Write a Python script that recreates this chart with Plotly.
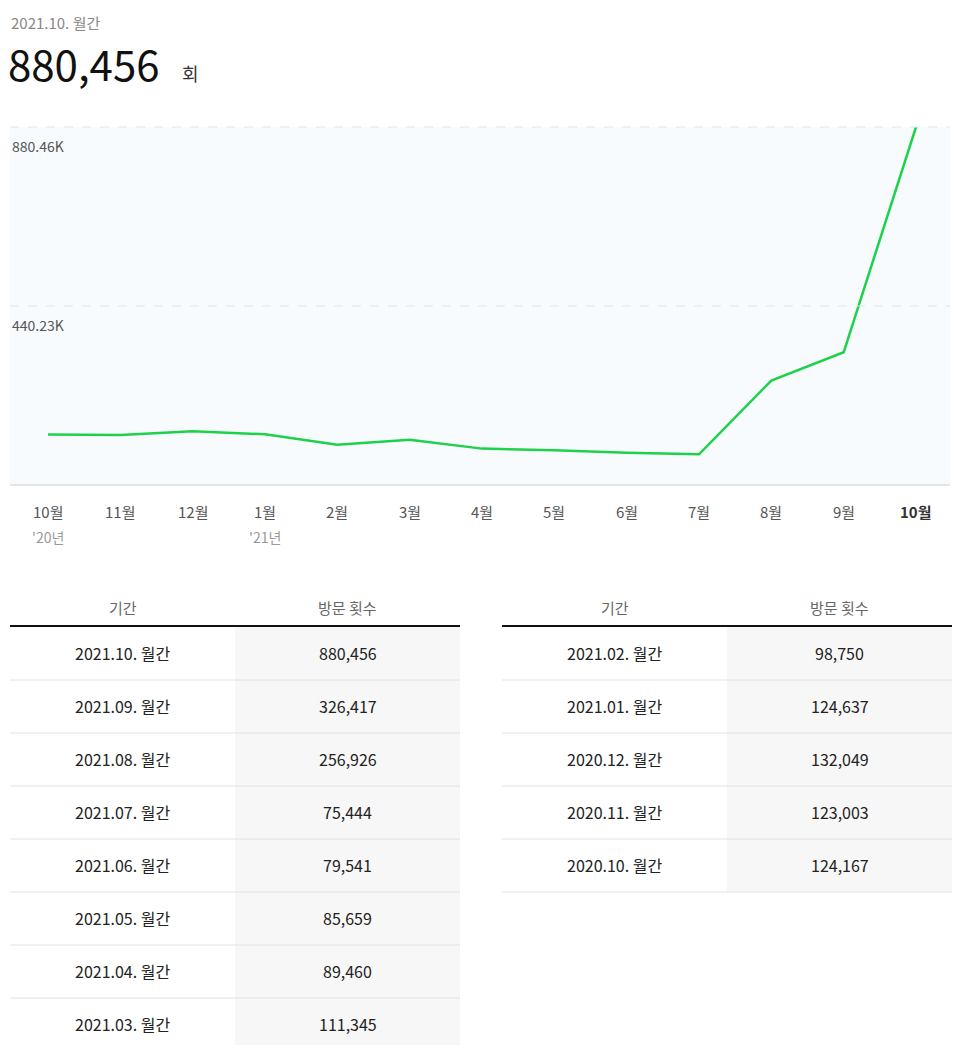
import plotly.graph_objects as go

months = ["10월","11월","12월","1월","2월","3월","4월","5월","6월","7월","8월","9월","10월"]
years = ["'20년","","","'21년","","","","","","","","",""]
visits = [124167,123003,132049,124637,98750,111345,89460,85659,79541,75444,256926,326417,880456]
tick_vals = [440230, 880460]
tick_text = ["440.23K", "880.46K"]

left_periods = ["2021.10. 월간","2021.09. 월간","2021.08. 월간","2021.07. 월간","2021.06. 월간","2021.05. 월간","2021.04. 월간","2021.03. 월간"]
left_values = ["880,456","326,417","256,926","75,444","79,541","85,659","89,460","111,345"]
right_periods = ["2021.02. 월간","2021.01. 월간","2020.12. 월간","2020.11. 월간","2020.10. 월간"]
right_values = ["98,750","124,637","132,049","123,003","124,167"]
headers = ["기간", "방문 횟수"]

OFF = 8
W, H = 966 - 2 * OFF, 1053 - 2 * OFF
FONT = "Noto Sans CJK KR"
def px(x): return (x - OFF) / W
def py(y): return 1 - (y - OFF) / H

fig = go.Figure()
xs = list(range(len(visits)))
fig.add_trace(go.Scatter(x=xs, y=visits, mode="lines", line=dict(color="#1ed14b", width=2.5),
                         cliponaxis=False, hoverinfo="skip"))

u = (916 - 48) / 12
x0 = -(48 - 10) / u
x1 = 12 + (950 - 916) / u
fig.update_layout(
    width=W, height=H, margin=dict(l=0, r=0, t=0, b=0),
    paper_bgcolor="white", plot_bgcolor="#f7fbfd", showlegend=False,
    font=dict(family=FONT),
    xaxis=dict(domain=[px(10), px(950)], range=[x0, x1], showgrid=False, zeroline=False,
               showticklabels=False, fixedrange=True),
    yaxis=dict(domain=[py(485), py(127)], range=[0, 880456], showgrid=False, zeroline=False,
               showticklabels=False, fixedrange=True),
)
shapes = []
ann = []
def A(**k):
    k.setdefault("showarrow", False)
    k.setdefault("xanchor", "center")
    k.setdefault("yanchor", "middle")
    ann.append(k)

for v, t, ypix in zip(tick_vals, tick_text, [306, 127]):
    shapes.append(dict(type="line", xref="paper", yref="paper", x0=px(10), x1=px(950), y0=py(ypix), y1=py(ypix),
                       line=dict(color="#dde6ec", width=1, dash="dash")))
    A(xref="paper", yref="paper", x=px(10), y=py(ypix + 19), text=t, xanchor="left",
      font=dict(size=14, color="#555"))
shapes.append(dict(type="line", xref="paper", yref="paper", x0=px(10), x1=px(950), y0=py(485), y1=py(485),
                   line=dict(color="#ccc", width=1)))
for i, (m, yr) in enumerate(zip(months, years)):
    last = i == len(months) - 1
    A(xref="x", yref="paper", x=i, y=py(511), text=f"<b>{m}</b>" if last else m,
      font=dict(size=15, color="#333" if last else "#555"))
    if yr:
        A(xref="x", yref="paper", x=i, y=py(537), text=yr, font=dict(size=14, color="#999"))

A(xref="paper", yref="paper", x=px(9), y=py(22), text="2021.10. 월간", xanchor="left",
  font=dict(size=15, color="#888"))
A(xref="paper", yref="paper", x=px(6), y=py(63), text="880,456", xanchor="left",
  font=dict(size=42, color="#111"))
A(xref="paper", yref="paper", x=px(180), y=py(73), text="회", xanchor="left",
  font=dict(size=18, color="#333"))

def table(xl, xr, xm, periods, values):
    c1 = (xl + xm) / 2; c2 = (xm + xr) / 2
    n = len(periods)
    shapes.append(dict(type="rect", xref="paper", yref="paper", x0=px(xm), x1=px(xr), y0=py(627 + 53 * n), y1=py(627),
                       fillcolor="#f7f7f7", line=dict(width=0), layer="below"))
    for h, c in zip(headers, [c1, c2]):
        A(xref="paper", yref="paper", x=px(c), y=py(607), text=h, font=dict(size=15, color="#666"))
    shapes.append(dict(type="line", xref="paper", yref="paper", x0=px(xl), x1=px(xr), y0=py(626), y1=py(626),
                       line=dict(color="#111", width=2)))
    for k, (p, v) in enumerate(zip(periods, values)):
        yc = 653 + 53 * k
        A(xref="paper", yref="paper", x=px(c1), y=py(yc), text=p, font=dict(size=16, color="#222"))
        A(xref="paper", yref="paper", x=px(c2), y=py(yc), text=v, font=dict(size=16, color="#222"))
        yb = 680 + 53 * k
        shapes.append(dict(type="line", xref="paper", yref="paper", x0=px(xl), x1=px(xr), y0=py(yb), y1=py(yb),
                           line=dict(color="#e2e2e2", width=1)))

table(10, 460, 235, left_periods, left_values)
table(502, 952, 727, right_periods, right_values)
fig.update_layout(shapes=shapes, annotations=ann)
fig.write_html("out.html", config={"displayModeBar": False})
